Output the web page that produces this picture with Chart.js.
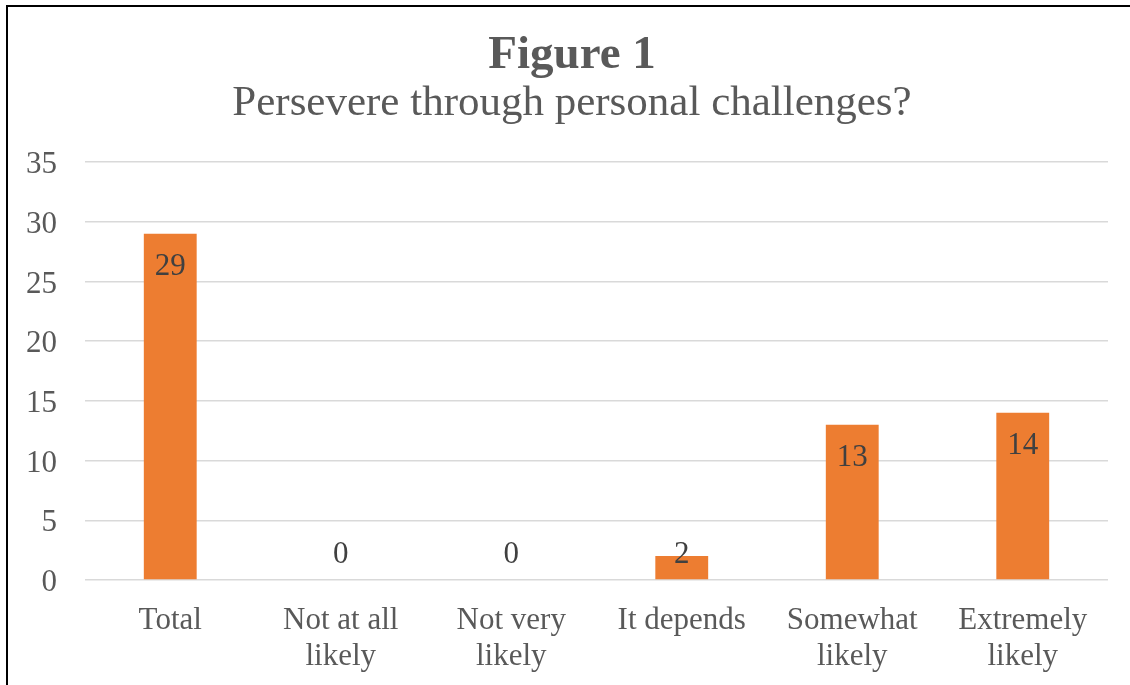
<!DOCTYPE html>
<html>
<head>
<meta charset="utf-8">
<script src="https://cdn.jsdelivr.net/npm/chart.js@4/dist/chart.umd.min.js"></script>
<style>
  html, body { margin: 0; padding: 0; background: #fff; overflow: hidden; }
  #wrap { position: relative; width: 1130px; height: 685px; }
  #frame {
    position: absolute; left: 6px; top: 5px; width: 1200px; height: 800px;
    border-left: 2px solid #000; border-top: 2px solid #000; pointer-events: none;
  }
  canvas { position: absolute; left: 0; top: 0; }
</style>
</head>
<body>
<div id="wrap">
  <canvas id="chart" width="1130" height="685"></canvas>
  <div id="frame"></div>
</div>
<script>
// Survey responses: "Persevere through personal challenges?"
const categories = ['Total', ['Not at all', 'likely'], ['Not very', 'likely'], 'It depends', ['Somewhat', 'likely'], ['Extremely', 'likely']];
const counts = [29, 0, 0, 2, 13, 14];
const yMin = 0;
const yMax = 35;
const yStep = 5;

const SERIF = "'Liberation Serif', 'Times New Roman', serif";
const TEXT = '#595959';

// Value labels placed just inside the top of each bar
const valueLabels = {
  id: 'valueLabels',
  afterDatasetsDraw(chart) {
    const ctx = chart.ctx;
    const yScale = chart.scales.y;
    const base = yScale.getPixelForValue(0);
    const meta = chart.getDatasetMeta(0);
    ctx.save();
    ctx.font = '31px ' + SERIF;
    ctx.fillStyle = '#404040';
    ctx.textAlign = 'center';
    ctx.textBaseline = 'middle';
    meta.data.forEach((bar, i) => {
      const y = Math.min(bar.y + 33, base - 25);
      ctx.fillText(String(counts[i]), bar.x, y);
    });
    ctx.restore();
  }
};

new Chart(document.getElementById('chart'), {
  type: 'bar',
  data: {
    labels: categories,
    datasets: [{
      data: counts,
      backgroundColor: '#ED7D31',
      borderWidth: 0,
      barPercentage: 0.31,
      categoryPercentage: 1
    }]
  },
  options: {
    responsive: false,
    animation: false,
    layout: { padding: { left: 20, right: 6, top: 0, bottom: 0 } },
    plugins: {
      legend: { display: false },
      tooltip: { enabled: false },
      title: {
        display: true,
        text: 'Figure 1',
        color: TEXT,
        font: { family: SERIF, size: 47, weight: 'bold', lineHeight: 1.0 },
        padding: { top: 32, bottom: 3 }
      },
      subtitle: {
        display: true,
        text: 'Persevere through personal challenges?',
        color: TEXT,
        font: { family: SERIF, size: 43, weight: 'normal', lineHeight: 1.0 },
        padding: { top: 0, bottom: 37 }
      }
    },
    scales: {
      x: {
        grid: { display: false, drawTicks: false },
        border: { display: false },
        ticks: {
          color: TEXT,
          font: { family: SERIF, size: 31, lineHeight: 1.15 },
          padding: 23,
          maxRotation: 0,
          autoSkip: false
        },
        afterFit(scale) { scale.height = 105; }
      },
      y: {
        min: yMin,
        max: yMax,
        grid: { color: '#d9d9d9', lineWidth: 1.5, drawTicks: false },
        border: { display: false },
        ticks: {
          stepSize: yStep,
          color: TEXT,
          font: { family: SERIF, size: 31 },
          padding: 28,
          labelOffset: 3
        },
        afterFit(scale) { scale.width = 65; }
      },
      // empty right-hand margin strip beside the plot
      yRight: {
        type: 'linear',
        position: 'right',
        min: yMin,
        max: yMax,
        grid: { display: false, drawTicks: false },
        border: { display: false },
        ticks: { display: false },
        afterFit(scale) { scale.width = 16; }
      }
    }
  },
  plugins: [valueLabels]
});
</script>
</body>
</html>
